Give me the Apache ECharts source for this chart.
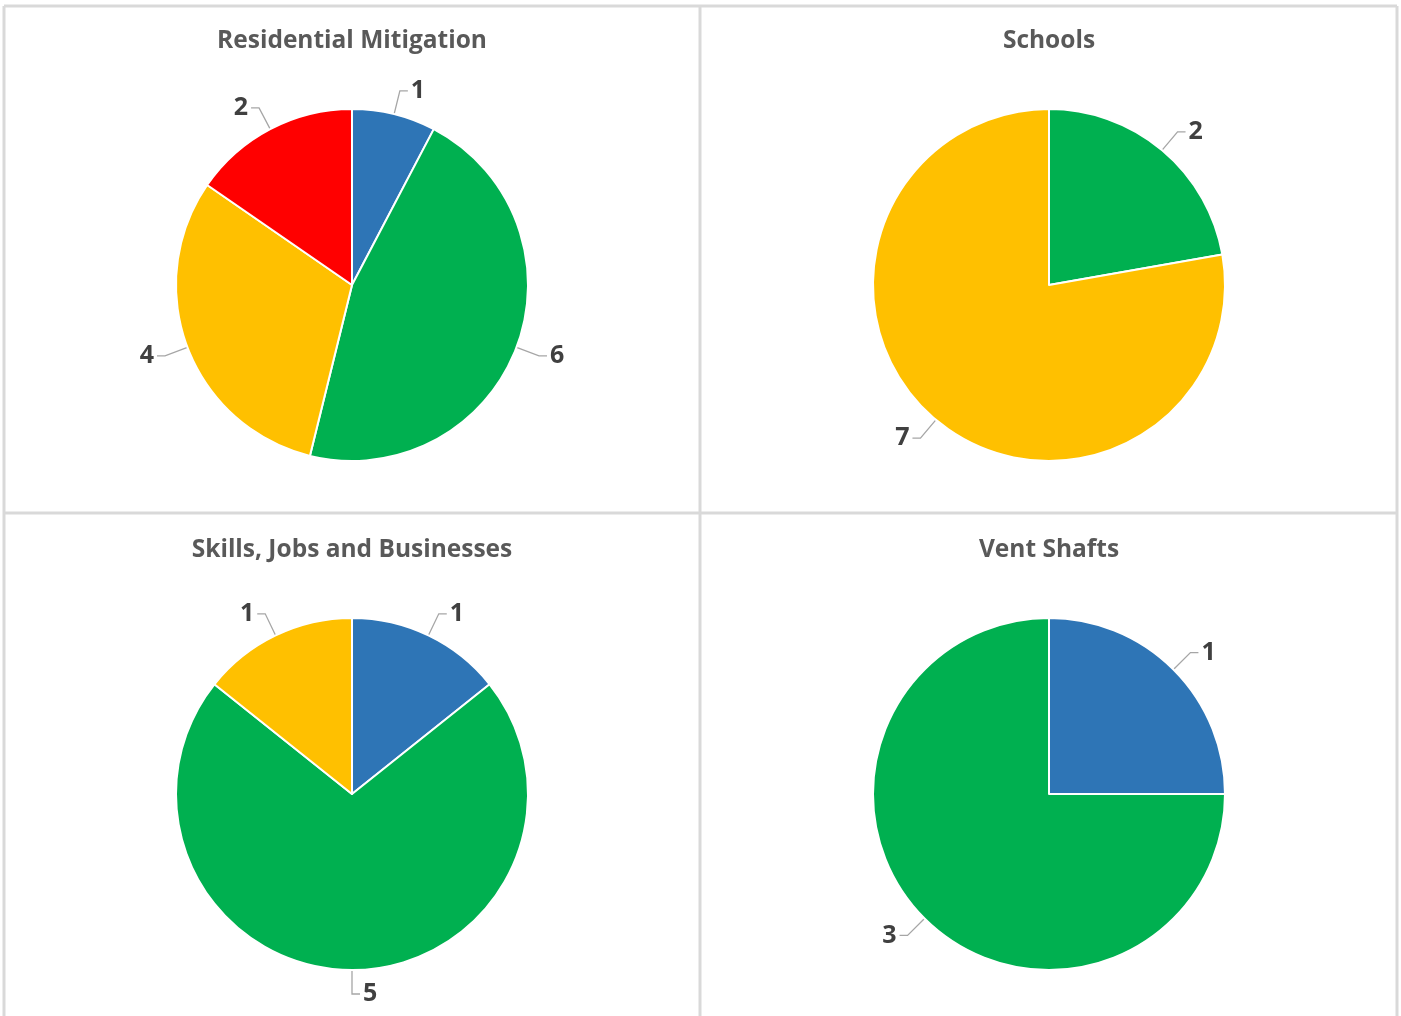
<!DOCTYPE html>
<html>
<head>
<meta charset="utf-8">
<script src="https://cdn.jsdelivr.net/npm/echarts@6/dist/echarts.min.js"></script>
<style>
  html, body { margin: 0; padding: 0; background: #fff; }
  #chart { width: 1401px; height: 1016px; }
</style>
</head>
<body>
<div id="chart"></div>
<script>
// 数据
const statuses = ['Blue', 'Green', 'Amber', 'Red'];
const statusColors = ['#2E75B6', '#00B050', '#FFC000', '#FF0000'];
const titles = ['Residential Mitigation', 'Schools', 'Skills, Jobs and Businesses', 'Vent Shafts'];
const residential = [1, 6, 4, 2];
const schools = [0, 2, 7, 0];
const skills = [1, 5, 1, 0];
const ventShafts = [1, 3, 0, 0];

const panelValues = [residential, schools, skills, ventShafts];
const centers = [[352, 285], [1049, 285], [352, 794], [1049, 794]];
const titlePos = [[352, 40], [1049, 40], [352, 549], [1049, 549]];

const chart = echarts.init(document.getElementById('chart'));

// 构建饼图系列
const series = panelValues.map((values, i) => ({
  type: 'pie',
  center: centers[i],
  radius: 176,
  startAngle: 90,
  clockwise: true,
  animation: false,
  data: values
    .map((v, k) => ({ name: statuses[k], value: v, itemStyle: { color: statusColors[k] } }))
    .filter(d => d.value > 0),
  itemStyle: { borderColor: '#fff', borderWidth: 2 },
  label: {
    show: true,
    position: 'outside',
    formatter: '{c}',
    fontFamily: 'Open Sans',
    fontWeight: 'bold',
    fontSize: 25,
    color: '#404040',
    distanceToLabelLine: 3
  },
  labelLine: {
    show: true,
    length: 24,
    length2: 8,
    lineStyle: { color: '#a6a6a6', width: 1.3 }
  },
  emphasis: { disabled: true }
}));

// 面板分隔线
const lineStyle = { stroke: '#d9d9d9', lineWidth: 3 };
const graphics = [
  { type: 'line', shape: { x1: 4, y1: 6, x2: 1397, y2: 6 }, style: lineStyle },
  { type: 'line', shape: { x1: 4, y1: 6, x2: 4, y2: 1016 }, style: lineStyle },
  { type: 'line', shape: { x1: 1397, y1: 6, x2: 1397, y2: 1016 }, style: lineStyle },
  { type: 'line', shape: { x1: 700, y1: 6, x2: 700, y2: 1016 }, style: lineStyle },
  { type: 'line', shape: { x1: 4, y1: 513, x2: 1397, y2: 513 }, style: lineStyle }
];

chart.setOption({
  backgroundColor: '#fff',
  title: titles.map((t, i) => ({
    text: t,
    left: titlePos[i][0],
    top: titlePos[i][1] - 11,
    textAlign: 'center',
    padding: 0,
    textStyle: { fontFamily: 'Open Sans', fontWeight: 'bold', fontSize: 24.5, color: '#595959' }
  })),
  graphic: graphics,
  series: series
});
</script>
</body>
</html>
